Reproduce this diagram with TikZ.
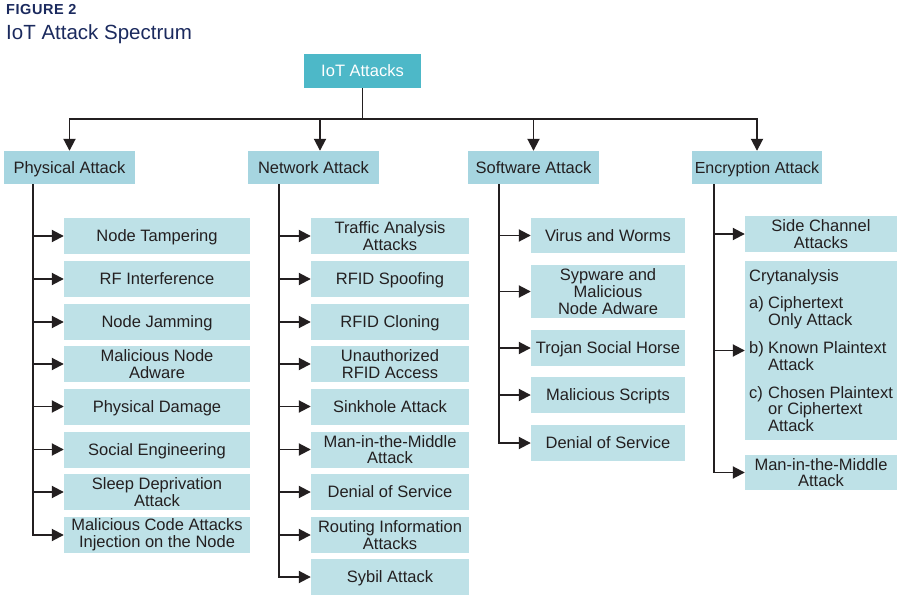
\documentclass[tikz,border=0pt]{standalone}
\usepackage{fontspec}
\setmainfont{Liberation Sans}
\usetikzlibrary{arrows.meta}
\definecolor{rootc}{HTML}{4DB8C8}
\definecolor{midc}{HTML}{A6D5E0}
\definecolor{leafc}{HTML}{BEE1E7}
\definecolor{ink}{HTML}{231F20}
\definecolor{navy}{HTML}{1B2A5E}
\newcommand{\itemlbl}[1]{\makebox[19pt][l]{#1}}
\begin{document}
\begin{tikzpicture}[x=1pt,y=-1pt,
  box/.style={inner sep=0pt, align=center, text=ink},
  one/.style={text height=11.8pt, text depth=0pt},
  rootbox/.style={box, one, fill=rootc, text=white, minimum width=117pt, minimum height=34pt, font=\fontsize{16.5}{17}\selectfont},
  catbox/.style={box, one, fill=midc, minimum width=131pt, minimum height=33pt, font=\fontsize{16.5}{17}\selectfont},
  leafbox/.style={box, fill=leafc, minimum height=36pt, font=\fontsize{16.5}{16.8}\selectfont},
  pleaf/.style={leafbox, minimum width=186pt},
  nleaf/.style={leafbox, minimum width=158pt},
  sleaf/.style={leafbox, minimum width=154pt},
  eleaf/.style={leafbox, minimum width=152pt},
  conn/.style={draw=ink, line width=1.9pt},
  arr/.style={conn, -{Triangle[length=12pt,width=12pt]}},
  titlefont/.style={anchor=base west, inner sep=0pt, text=navy}
]
\fill[white] (0,0) rectangle (900,599);
\useasboundingbox (0,0) rectangle (900,599);

% titles
\node[titlefont, font=\bfseries\fontsize{14.5}{16}\selectfont\addfontfeatures{LetterSpace=4}] (fig) at (6,15) {FIGURE 2};
\node[titlefont, font=\fontsize{20.5}{22}\selectfont] (title) at (6,40) {IoT Attack Spectrum};

% root and categories
\node[rootbox] (root) at (362.5,71) {IoT Attacks};
\node[catbox] (phys) at (69.5,167.5) {Physical Attack};
\node[catbox] (net) at (313.5,167.5) {Network Attack};
\node[catbox] (soft) at (533.5,167.5) {Software Attack};
\node[catbox, minimum width=130pt, font=\fontsize{16}{17}\selectfont] (enc) at (757,167.5) {Encryption Attack};

\coordinate (bus) at (362.5,119);
\draw[conn] (root.south) -- (bus);
\draw[arr] (bus) -| (phys.north);
\draw[arr] (bus) -| ([xshift=6.5pt]net.north);
\draw[arr] (bus) -| (soft.north);
\draw[arr] (bus) -| (enc.north);

% physical leaves
\node[pleaf, one] (p1) at (157,236) {Node Tampering};
\node[pleaf, one] (p2) at (157,279) {RF Interference};
\node[pleaf, one] (p3) at (157,322) {Node Jamming};
\node[pleaf] (p4) at (157,364) {Malicious Node\\Adware};
\node[pleaf, one] (p5) at (157,406.5) {Physical Damage};
\node[pleaf, one] (p6) at (157,449.5) {Social Engineering};
\node[pleaf] (p7) at (157,492) {Sleep Deprivation\\Attack};
\node[pleaf] (p8) at (157,535) {Malicious Code Attacks\\Injection on the Node};

% network leaves
\node[nleaf] (n1) at (390,236) {Traffic Analysis\\Attacks};
\node[nleaf, one] (n2) at (390,279) {RFID Spoofing};
\node[nleaf, one] (n3) at (390,322) {RFID Cloning};
\node[nleaf] (n4) at (390,364) {Unauthorized\\RFID Access};
\node[nleaf, one] (n5) at (390,406.5) {Sinkhole Attack};
\node[nleaf] (n6) at (390,449.5) {Man-in-the-Middle\\Attack};
\node[nleaf, one] (n7) at (390,492) {Denial of Service};
\node[nleaf] (n8) at (390,535) {Routing Information\\Attacks};
\node[nleaf, one] (n9) at (390,577) {Sybil Attack};

% software leaves
\node[sleaf, one, minimum height=35pt] (s1) at (608,235.5) {Virus and Worms};
\node[sleaf, minimum height=53pt] (s2) at (608,291.5) {Sypware and\\Malicious\\Node Adware};
\node[sleaf, one] (s3) at (608,348) {Trojan Social Horse};
\node[sleaf, one] (s4) at (608,395) {Malicious Scripts};
\node[sleaf, one] (s5) at (608,443) {Denial of Service};

% encryption leaves
\node[eleaf] (e1) at (821,234) {Side Channel\\Attacks};
\node[eleaf, minimum height=179pt, align=left] (e2) at (821,350.5) {Crytanalysis\\[11pt]\itemlbl{a)}Ciphertext\\\itemlbl{}Only Attack\\[11pt]\itemlbl{b)}Known Plaintext\\\itemlbl{}Attack\\[11pt]\itemlbl{c)}Chosen Plaintext\\\itemlbl{}or Ciphertext\\\itemlbl{}Attack};
\node[eleaf, minimum height=35pt] (e3) at (821,472.5) {Man-in-the-Middle\\Attack};

% trunks
\coordinate (pt) at ([xshift=-36.5pt]phys.south);
\coordinate (nt) at ([xshift=-34.5pt]net.south);
\coordinate (st) at ([xshift=-34.5pt]soft.south);
\coordinate (et) at ([xshift=-43pt]enc.south);

\foreach \i in {1,...,8} \draw[arr] (pt) |- (p\i.west);
\foreach \i in {1,...,9} \draw[arr] (nt) |- (n\i.west);
\foreach \i in {1,...,5} \draw[arr] (st) |- (s\i.west);
\foreach \i in {1,...,3} \draw[arr] (et) |- (e\i.west);
\end{tikzpicture}
\end{document}
